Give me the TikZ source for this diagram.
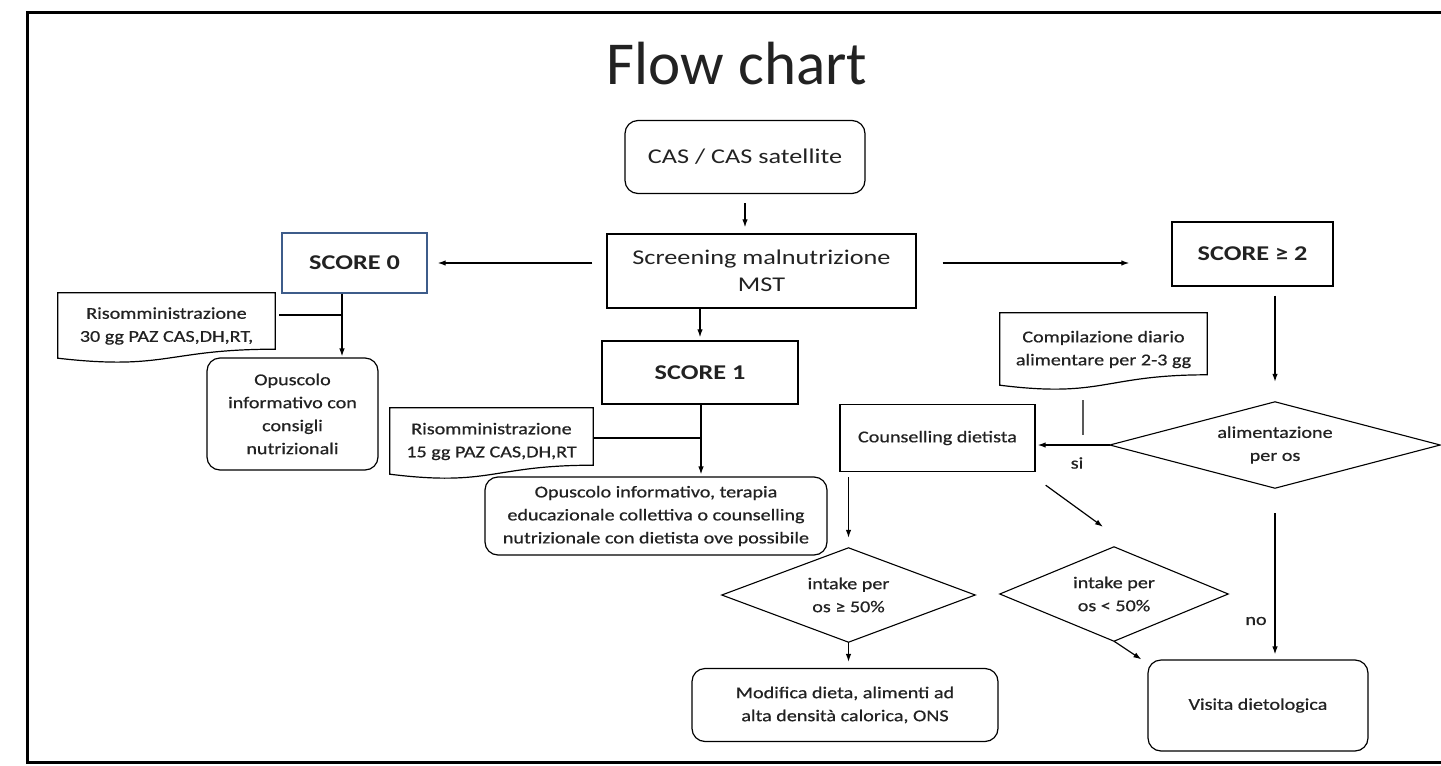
\documentclass[tikz,border=0pt]{standalone}
\usepackage{fontspec}
\setmainfont{Carlito}
\newfontfamily\wide[FakeStretch=1.25]{Carlito}
\newfontfamily\wideb[FakeStretch=1.22,FakeBold=0.6]{Carlito}
\usetikzlibrary{arrows.meta,calc}
\definecolor{txt}{HTML}{222222}
\definecolor{sblue}{HTML}{3E5C8A}
\newcommand\docout[4]{%
  \draw[ln] (#1.north west) -- (#1.north east) -- ($(#1.south east)+(0,-#2)$)
    .. controls ($(#1.south)+(0,-#2)$) and ($(#1.south)+(0,#4)$) ..
    ($(#1.south west)+(0,#3)$) -- cycle;}
\newcommand\dmdout[1]{%
  \draw[line width=1.1pt] (#1.north) -- (#1.east) -- (#1.south) -- (#1.west) -- cycle;}
\begin{document}
\begin{tikzpicture}[x=1pt,y=-1pt,
  every node/.style={text=txt, align=center, inner sep=0pt},
  box/.style={draw=black, line width=1.4pt, rectangle},
  rbox/.style={draw=black, line width=1.2pt, rectangle, rounded corners=13pt},
  plain/.style={rectangle},
  ln/.style={line width=1.2pt},
  arr/.style={line width=1.2pt, -{Latex[length=8pt,width=5.5pt]}},
  small/.style={font=\wideb\fontsize{16.5}{23}\selectfont},
  mid/.style={font=\wide\fontsize{21}{27}\selectfont},
  score/.style={font=\wide\bfseries\fontsize{21}{24}\selectfont}
]
\path[use as bounding box] (0,0) rectangle (1441,766);
\fill[white] (0,0) rectangle (1441,766);
\draw[line width=3pt] (1441,12) -- (27,12) -- (27,762) -- (1441,762);

\node[font=\fontsize{61}{63}\selectfont] (title) at (737,64) {Flow chart};

\node[rbox, mid, minimum width=240pt, minimum height=73pt] (cas) at (745,157) {CAS / CAS satellite};
\node[box, mid, minimum width=309pt, minimum height=74pt] (screen) at (761.5,271) {Screening malnutrizione\\MST};

\node[box, draw=sblue, score, minimum width=145pt, minimum height=60pt] (s0) at (354.5,263) {SCORE 0};
\node[box, score, minimum width=196pt, minimum height=63pt] (s1) at (700,372.5) {SCORE 1};
\node[box, score, minimum width=161pt, minimum height=64pt] (s2) at (1252.5,254) {SCORE ≥ 2};

\node[plain, small, minimum width=217pt, minimum height=66pt] (d0) at (166.5,326) {Risomministrazione\\30 gg PAZ CAS,DH,RT,};
\docout{d0}{10}{-1}{11.5}
\node[plain, small, minimum width=203pt, minimum height=67pt] (d1) at (491.5,441.5) {Risomministrazione\\15 gg PAZ CAS,DH,RT};
\docout{d1}{10}{-1}{11.6}
\node[plain, small, minimum width=207pt, minimum height=73pt] (d2) at (1103.5,349.5) {Compilazione diario\\alimentare per 2-3 gg};
\docout{d2}{11.4}{-1}{12}

\node[rbox, small, minimum width=171pt, minimum height=112pt] (op0) at (292.5,414) {Opuscolo\\informativo con\\consigli\\nutrizionali};
\node[rbox, small, minimum width=342pt, minimum height=78pt] (op1) at (656,516) {Opuscolo informativo, terapia\\educazionale collettiva o counselling\\nutrizionale con dietista ove possibile};
\node[box, small, minimum width=195pt, minimum height=67pt] (couns) at (937.5,438) {Counselling dietista};
\node[rbox, small, minimum width=306pt, minimum height=73pt] (mod) at (845,705) {Modifica dieta, alimenti ad\\alta densità calorica, ONS};
\node[rbox, small, minimum width=220pt, minimum height=91pt] (vis) at (1258,705.5) {Visita dietologica};

\node[plain, small, minimum width=330pt, minimum height=86pt] (dA) at (1275,445) {alimentazione\\per os};
\dmdout{dA}
\node[plain, small, minimum width=253pt, minimum height=94pt] (dB) at (848.5,595) {intake per\\os ≥ 50\%};
\dmdout{dB}
\node[plain, small, minimum width=228pt, minimum height=94pt] (dC) at (1114,594) {intake per\\os < 50\%};
\dmdout{dC}

\node[small] (si) at (1077,463) {si};
\node[small] (no) at (1256,621) {no};

\draw[arr, shorten <=9pt, shorten >=6pt] (cas.south) -- (cas.south |- screen.north);
\draw[arr, shorten <=14pt, shorten >=10pt] (screen.west |- s0.east) -- (s0.east);
\draw[arr, shorten <=26pt, shorten >=42pt] (screen.east |- s0.east) -- (s2.west |- s0.east);
\draw[arr, shorten >=3pt] (s1.north |- screen.south) -- (s1.north);

\coordinate (j0) at (342,315);
\draw[ln] (s0.south -| j0) -- (j0);
\draw[ln, shorten <=4pt] (d0.east |- j0) -- (j0);
\draw[arr, shorten >=1pt] (j0) -- (op0.north -| j0);

\coordinate (j1) at (701,438);
\draw[ln] (s1.south -| j1) -- (j1);
\draw[ln] (d1.east |- j1) -- (j1);
\draw[arr, shorten >=2pt] (j1) -- (op1.north -| j1);

\draw[arr, shorten <=9pt, shorten >=20pt] (dA.north |- s2.south) -- (dA.north);
\draw[arr, shorten >=2pt] (dA.west) -- (couns.east |- dA.west);
\coordinate (c2) at (1083,435);
\draw[ln, draw=gray!70!black, shorten <=14pt] (d2.south -| c2) -- (c2);

\draw[arr, shorten <=5pt, shorten >=10pt] (couns.south -| dB.north) -- (dB.north);
\draw[arr] ([shift={(10,13)}]couns.south east) -- ([shift={(-11,-20)}]dC.north);
\draw[arr, shorten >=6pt] (dB.south) -- (dB.south |- mod.north);
\draw[arr] (dC.south) -- ([shift={(-6,0)}]vis.north west);
\draw[arr, shorten <=25pt, shorten >=5pt] (dA.south) -- (dA.south |- vis.north);
\end{tikzpicture}
\end{document}
